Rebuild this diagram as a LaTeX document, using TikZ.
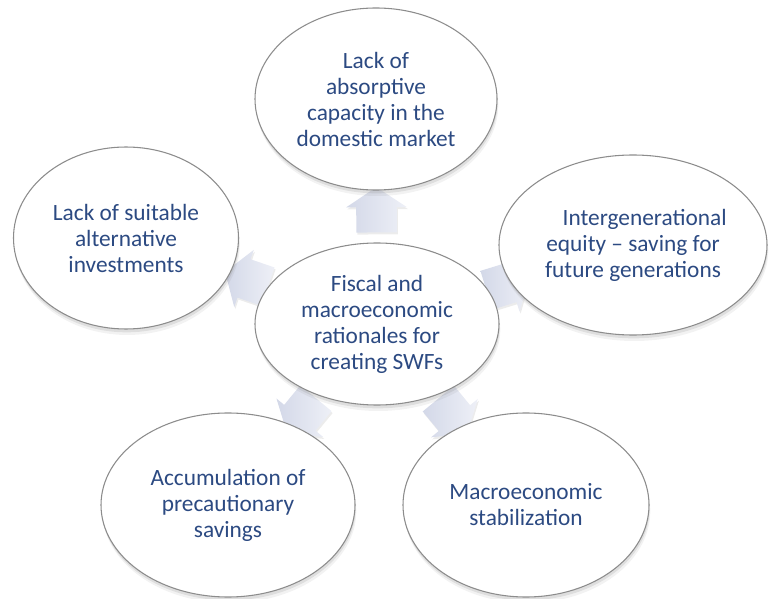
\documentclass[tikz,border=0pt]{standalone}
\usepackage{fontspec}
\setmainfont{Carlito}
\usetikzlibrary{shapes.geometric,shapes.arrows,shadows,backgrounds}
\definecolor{rationaleblue}{HTML}{2C4A82}
\definecolor{ringgrey}{HTML}{8C8C8C}
\definecolor{arrowlight}{HTML}{EEF0F7}
\definecolor{arrowdark}{HTML}{D3D8E8}

\begin{document}
\begin{tikzpicture}[x=0.75pt,y=-0.75pt,
   every node/.style={font=\fontsize{17.5}{19.5}\selectfont,text=rationaleblue,align=center},
   reason/.style={ellipse,draw=ringgrey,line width=0.8pt,fill=white,inner sep=0pt,
      drop shadow={opacity=0.18,shadow xshift=0.5pt,shadow yshift=-2.5pt},
      drop shadow={opacity=0.10,shadow xshift=1pt,shadow yshift=-4.5pt}},
   push/.style={single arrow,draw=none,inner sep=0pt,text height=15pt,text depth=15pt,
      minimum height=34pt,single arrow head extend=7.5pt,single arrow tip angle=113,
      left color=arrowdark,right color=arrowlight,sloped,allow upside down,
      drop shadow={opacity=0.15,shadow xshift=0.8pt,shadow yshift=-1.5pt}}]

\useasboundingbox (0,0) rectangle (769,599);

\node[reason,minimum width=183pt,minimum height=121.5pt] (rationale) at (377,324)
   {Fiscal and\\macroeconomic\\rationales for\\creating SWFs};
\node[reason,minimum width=181.5pt,minimum height=136.5pt] (absorb) at (376,99)
   {Lack of\\absorptive\\capacity in the\\domestic market};
\node[reason,minimum width=168.75pt,minimum height=136.5pt] (altinv) at (126,238)
   {Lack of suitable\\alternative\\investments};
\node[reason,minimum width=201pt,minimum height=135pt] (equity) at (633,245)
   {\hspace*{1em}Intergenerational\\equity -- saving for\\future generations};
\node[reason,minimum width=190.5pt,minimum height=138pt] (precaution) at (228,505)
   {Accumulation of\\precautionary\\savings};
\node[reason,minimum width=184.5pt,minimum height=138pt] (stabil) at (526,505)
   {Macroeconomic\\stabilization};

\begin{scope}[on background layer]
\path (rationale) -- (absorb) node[push,pos=0.5] {};
\path (rationale) -- (altinv) node[push,pos=0.4] {};
\path (rationale) -- (equity) node[push,pos=0.6] {};
\path (rationale) -- (precaution) node[push,pos=0.5] {};
\path (rationale) -- (stabil) node[push,pos=0.5] {};
\end{scope}

\end{tikzpicture}
\end{document}
